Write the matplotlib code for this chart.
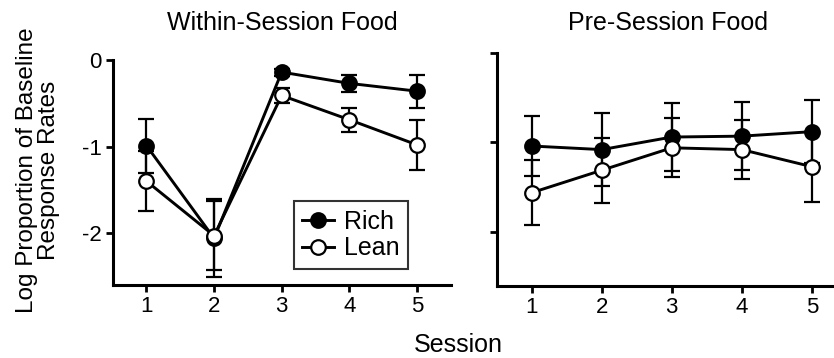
import matplotlib
matplotlib.use("Agg")
import matplotlib.pyplot as plt

plt.rcParams['font.family'] = ['Liberation Sans', 'DejaVu Sans']

sessions = [1, 2, 3, 4, 5]
xtick_labels = ["1", "2", "3", "4", "5"]

within_rich = [-0.99, -2.06, -0.14, -0.27, -0.36]
within_rich_err = [0.31, 0.45, 0.04, 0.10, 0.19]
within_lean = [-1.40, -2.03, -0.41, -0.69, -0.98]
within_lean_err = [0.35, 0.40, 0.09, 0.14, 0.29]

pre_rich = [-1.04, -1.08, -0.94, -0.93, -0.88]
pre_rich_err = [0.33, 0.41, 0.38, 0.38, 0.35]
pre_lean = [-1.56, -1.31, -1.06, -1.08, -1.27]
pre_lean_err = [0.36, 0.36, 0.33, 0.33, 0.39]

fig = plt.figure(figsize=(8.34, 3.58), dpi=100)
ax1 = fig.add_axes([0.1351, 0.2039, 0.4053, 0.6285])
ax2 = fig.add_axes([0.5956, 0.2011, 0.4197, 0.6517])

def draw(ax, rich, rerr, lean, lerr, title, xc):
    ax.errorbar(sessions, rich, yerr=rerr, color='black', lw=2.1, marker='o',
                ms=10.5, mfc='black', mec='black', mew=1.6, capsize=6,
                elinewidth=1.6, capthick=1.6, label='Rich', zorder=3)
    ax.errorbar(sessions, lean, yerr=lerr, color='black', lw=2.1, marker='o',
                ms=10.5, mfc='white', mec='black', mew=1.6, capsize=6,
                elinewidth=1.6, capthick=1.6, label='Lean', zorder=4)
    ax.set_xlim(0.5, 5.5)
    ax.set_ylim(-2.6, 0)
    ax.set_xticks(sessions)
    ax.set_xticklabels(xtick_labels)
    ax.set_yticks([0, -1, -2])
    for s in ['top', 'right']:
        ax.spines[s].set_visible(False)
    for s in ['left', 'bottom']:
        ax.spines[s].set_linewidth(2.2)
    ax.tick_params(axis='both', direction='out', length=5, width=2.0,
                   labelsize=16, pad=3)
    fig.text(xc, 0.936, title, fontsize=18, ha='center', va='center')

draw(ax1, within_rich, within_rich_err, within_lean, within_lean_err,
     'Within-Session Food', 282 / 834)
draw(ax2, pre_rich, pre_rich_err, pre_lean, pre_lean_err, 'Pre-Session Food',
     668 / 834)
ax1.set_yticklabels(['0', '-1', '-2'])
ax2.set_yticklabels([])

ax1.set_ylabel('Log Proportion of Baseline\nResponse Rates', fontsize=17.5,
               linespacing=0.95)
ax1.yaxis.set_label_coords(-0.157, 0.511)

handles, labels = ax1.get_legend_handles_labels()
handles = [h[0] for h in handles]
leg = ax1.legend(handles, labels, loc='lower right', bbox_to_anchor=(0.874, 0.071),
                 fontsize=18, frameon=True, fancybox=False, handlelength=1.25,
                 handletextpad=0.4, borderpad=0.35, labelspacing=0.1,
                 borderaxespad=0)
leg.get_frame().set_edgecolor('black')
leg.get_frame().set_linewidth(1.5)

fig.text(458 / 834, 1 - 345 / 358, 'Session', fontsize=18, ha='center', va='center')

fig.savefig('out.png', dpi=100)
